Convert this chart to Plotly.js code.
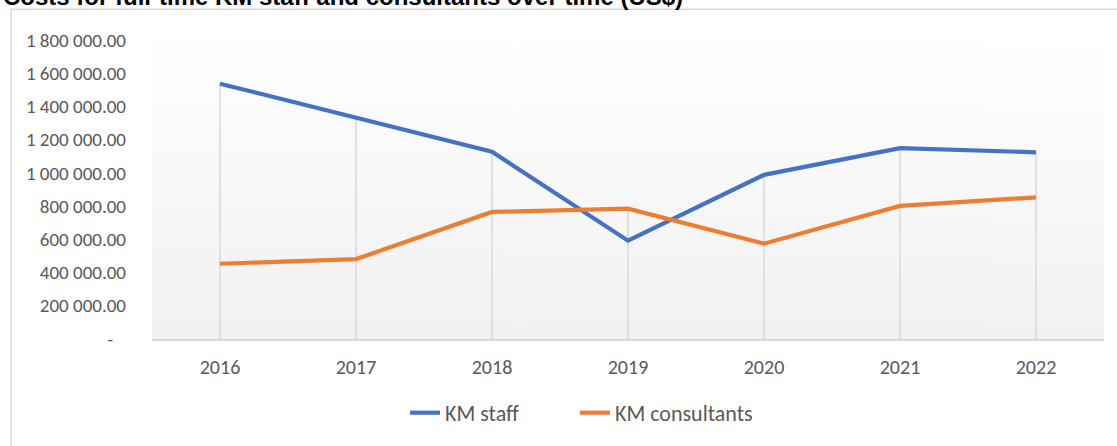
<!DOCTYPE html>
<html>
<head>
<meta charset="utf-8">
<script src="https://cdn.plot.ly/plotly-3.0.1.min.js"></script>
<style>
  html, body { margin: 0; padding: 0; background: #ffffff; }
  #chart { width: 1117px; height: 446px; }
</style>
</head>
<body>
<div id="chart"></div>
<script>
// ---- Data ----
const years = ["2016", "2017", "2018", "2019", "2020", "2021", "2022"];
const kmStaff = [1537000, 1332000, 1127000, 592000, 988000, 1149000, 1124000];
const kmConsultants = [453000, 481000, 765000, 785000, 574000, 801000, 853000];
const yTickVals = [0, 200000, 400000, 600000, 800000, 1000000, 1200000, 1400000, 1600000, 1800000];
const yTickText = ["-\u00a0\u00a0\u00a0", "200 000.00", "400 000.00", "600 000.00", "800 000.00",
                   "1 000 000.00", "1 200 000.00", "1 400 000.00", "1 600 000.00", "1 800 000.00"];
const seriesNames = ["KM staff", "KM consultants"];
const titleText = "Costs for full-time KM staff and consultants over time (US$)";

// drop lines: from axis to the highest point of each category
const dropX = [], dropY = [];
years.forEach((yr, i) => {
  dropX.push(yr, yr, null);
  dropY.push(0, Math.max(kmStaff[i], kmConsultants[i]), null);
});

// gradient background for plot area
const cv = document.createElement("canvas");
cv.width = 4; cv.height = 256;
const ctx = cv.getContext("2d");
const grd = ctx.createLinearGradient(0, 0, 0, 256);
grd.addColorStop(0, "#ffffff");
grd.addColorStop(1, "#f1f1f1");
ctx.fillStyle = grd;
ctx.fillRect(0, 0, 4, 256);
const gradURL = cv.toDataURL("image/png");

const textFont = "Carlito, Lato, 'Open Sans', sans-serif";
const textColor = "#595959";
const legendFont = { family: textFont, size: 22, color: textColor };
const legendY = (341.5 - 416) / 301.5;

const traces = [
  {
    x: dropX, y: dropY, type: "scatter", mode: "lines",
    line: { color: "#d9d9d9", width: 1.5 },
    showlegend: false, hoverinfo: "skip", connectgaps: false
  },
  {
    x: years, y: kmStaff, name: seriesNames[0], type: "scatter", mode: "lines",
    line: { color: "#4472C4", width: 4.2 }, legend: "legend"
  },
  {
    x: years, y: kmConsultants, name: seriesNames[1], type: "scatter", mode: "lines",
    line: { color: "#ED7D31", width: 4.2 }, legend: "legend2"
  }
];

const layout = {
  width: 1117, height: 446,
  margin: { l: 152, r: 13, t: 40, b: 105, pad: 0 },
  paper_bgcolor: "#ffffff",
  plot_bgcolor: "rgba(0,0,0,0)",
  showlegend: true,
  font: { family: textFont, color: textColor },
  xaxis: {
    type: "category",
    range: [-0.5, 6.5],
    showgrid: false, zeroline: false,
    showline: true, linecolor: "#d9d9d9", linewidth: 1.5,
    ticks: "", ticklabelstandoff: 9,
    tickfont: { family: textFont, size: 20, color: textColor },
    fixedrange: true
  },
  yaxis: {
    range: [0, 1800000],
    showgrid: false, zeroline: false, showline: false,
    tickmode: "array", tickvals: yTickVals, ticktext: yTickText,
    ticks: "", ticklabelstandoff: 25,
    tickfont: { family: textFont, size: 19, color: textColor },
    fixedrange: true
  },
  legend: {
    orientation: "h",
    x: (405 - 152) / 952, xanchor: "left",
    y: legendY, yanchor: "middle",
    font: legendFont, bgcolor: "rgba(0,0,0,0)"
  },
  legend2: {
    orientation: "h",
    x: (575 - 152) / 952, xanchor: "left",
    y: legendY, yanchor: "middle",
    font: legendFont, bgcolor: "rgba(0,0,0,0)"
  },
  images: [{
    source: gradURL, xref: "paper", yref: "paper",
    x: 0, y: 1, sizex: 1, sizey: 1, xanchor: "left", yanchor: "top",
    sizing: "stretch", layer: "below"
  }],
  shapes: [{
    type: "rect", xref: "paper", yref: "paper",
    x0: (11 - 152) / 952, x1: 1.2,
    y0: -0.6, y1: (341.5 - 9) / 301.5,
    line: { color: "#d9d9d9", width: 1.5 },
    fillcolor: "rgba(0,0,0,0)", layer: "below"
  }],
  annotations: [{
    text: "<b>" + titleText + "</b>",
    xref: "paper", yref: "paper",
    x: (1 - 152) / 952, xanchor: "left",
    y: (341.5 - 12) / 301.5, yanchor: "bottom",
    showarrow: false,
    font: { family: "Liberation Sans, Arial, sans-serif", size: 24, color: "#000000" }
  }]
};

Plotly.newPlot("chart", traces, layout, { displayModeBar: false, staticPlot: true });
</script>
</body>
</html>
